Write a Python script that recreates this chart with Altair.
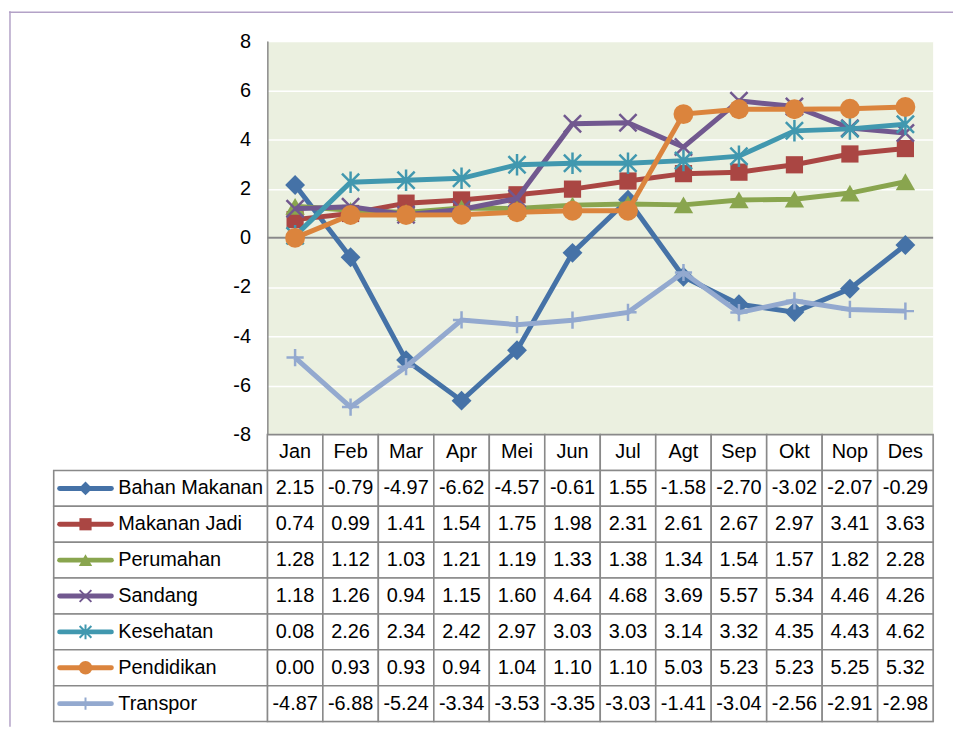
import altair as alt
import pandas as pd

# ---------------- data ----------------
months = ["Jan", "Feb", "Mar", "Apr", "Mei", "Jun", "Jul", "Agt", "Sep", "Okt", "Nop", "Des"]
series_names = ["Bahan Makanan", "Makanan Jadi", "Perumahan", "Sandang",
                "Kesehatan", "Pendidikan", "Transpor"]
bahan_makanan = [2.15, -0.79, -4.97, -6.62, -4.57, -0.61, 1.55, -1.58, -2.70, -3.02, -2.07, -0.29]
makanan_jadi = [0.74, 0.99, 1.41, 1.54, 1.75, 1.98, 2.31, 2.61, 2.67, 2.97, 3.41, 3.63]
perumahan = [1.28, 1.12, 1.03, 1.21, 1.19, 1.33, 1.38, 1.34, 1.54, 1.57, 1.82, 2.28]
sandang = [1.18, 1.26, 0.94, 1.15, 1.60, 4.64, 4.68, 3.69, 5.57, 5.34, 4.46, 4.26]
kesehatan = [0.08, 2.26, 2.34, 2.42, 2.97, 3.03, 3.03, 3.14, 3.32, 4.35, 4.43, 4.62]
pendidikan = [0.00, 0.93, 0.93, 0.94, 1.04, 1.10, 1.10, 5.03, 5.23, 5.23, 5.25, 5.32]
transpor = [-4.87, -6.88, -5.24, -3.34, -3.53, -3.35, -3.03, -1.41, -3.04, -2.56, -2.91, -2.98]
y_ticks = [-8, -6, -4, -2, 0, 2, 4, 6, 8]

series_values = [bahan_makanan, makanan_jadi, perumahan, sandang, kesehatan, pendidikan, transpor]

# ---------------- styles ----------------
X_PATH = "M-1,-1L1,1M-1,1L1,-1"
AST_PATH = "M-1,-1L1,1M-1,1L1,-1M0,-1.25L0,1.25"
PLUS_PATH = "M0,-1L0,1M-1,0L1,0"
colors = ["#4572A7", "#AA4643", "#89A54E", "#71588F", "#4198AF", "#DB843D", "#93A9CF"]
# (shape, filled, plot size, key size)
marker_styles = [
    ("diamond", True, 400, 190),
    ("square", True, 300, 150),
    ("triangle-up", True, 380, 180),
    (X_PATH, False, 300, 140),
    (AST_PATH, False, 300, 140),
    ("circle", True, 400, 190),
    (PLUS_PATH, False, 300, 150),
]
FONT = "Liberation Sans"
W, H_PLOT = 670, 396
ROW_H = 36.1
GRID = "#898989"

rows = []
for name, vals in zip(series_names, series_values):
    for m, v in zip(months, vals):
        rows.append({"series": name, "month": m, "value": v, "label": f"{v:.2f}"})
df = pd.DataFrame(rows)

# ---------------- top plot ----------------
x_enc = alt.X("month:N", sort=months,
              scale=alt.Scale(type="point", domain=months, padding=0.5), axis=None)
y_axis = alt.Axis(values=y_ticks, title=None, grid=True, gridColor="white", gridWidth=1.5,
                  domainColor=GRID, domainWidth=1.5, ticks=False, labelPadding=17,
                  labelFontSize=20, labelColor="black", labelFont=FONT,
                  labelExpr="datum.value + ''")
y_scale = alt.Scale(domain=[-8, 8], nice=False, zero=False)

one = pd.DataFrame({"v": [0]})
frame_top = alt.Chart(one).mark_rule(color="#B3A2C7", strokeWidth=1.5).encode(
    x=alt.value(-260), x2=alt.value(690), y=alt.value(-29))
frame_left = alt.Chart(one).mark_rule(color="#B3A2C7", strokeWidth=1.5).encode(
    x=alt.value(-259), y=alt.value(-30), y2=alt.value(690))
zero_rule = alt.Chart(one).mark_rule(color=GRID, strokeWidth=2).encode(
    y=alt.Y("v:Q", scale=y_scale, axis=y_axis))

layers = [zero_rule]
for name, col, (shape, filled, psize, _) in zip(series_names, colors, marker_styles):
    base = alt.Chart(df).transform_filter(alt.datum.series == name)
    line = base.mark_line(color=col, strokeWidth=5).encode(
        x=x_enc, y=alt.Y("value:Q", scale=y_scale, axis=y_axis))
    if filled:
        pt = base.mark_point(shape=shape, filled=True, size=psize, color=col, opacity=1)
    else:
        pt = base.mark_point(shape=shape, filled=False, size=psize, color=col, opacity=1,
                             strokeWidth=2.5)
    pt = pt.encode(x=x_enc, y=alt.Y("value:Q", scale=y_scale, axis=y_axis))
    layers += [line, pt]
layers += [frame_top, frame_left]

top = alt.layer(*layers).properties(
    width=W, height=H_PLOT, view=alt.ViewBackground(fill="#EBF0E0", stroke=None))

# ---------------- data table ----------------
row_keys = ["_hdr"] + series_names
y_t = alt.Y("row:N", scale=alt.Scale(domain=row_keys, paddingInner=0, paddingOuter=0), axis=None)
x_t = alt.X("month:N", scale=alt.Scale(domain=months, paddingInner=0, paddingOuter=0), axis=None)

cells = pd.DataFrame([{"row": r, "month": m} for r in row_keys for m in months])
cell_rects = alt.Chart(cells).mark_rect(fill="white", stroke=GRID, strokeWidth=1.6).encode(x=x_t, y=y_t)

hdr = pd.DataFrame({"row": ["_hdr"] * len(months), "month": months})
hdr_text = alt.Chart(hdr).mark_text(fontSize=20, font=FONT, color="black").encode(
    x=x_t, y=y_t, text="month:N")

tdf = df.rename(columns={"series": "row"})
val_text = alt.Chart(tdf).mark_text(fontSize=20, font=FONT, color="black").encode(
    x=x_t, y=y_t, text="label:N")

lab = pd.DataFrame({"row": series_names})
lab_rects = alt.Chart(lab).mark_rect(fill="white", stroke=GRID, strokeWidth=1.6).encode(
    x=alt.value(-215), x2=alt.value(0), y=y_t)
lab_text = alt.Chart(lab).mark_text(fontSize=20, font=FONT, color="black", align="left").encode(
    x=alt.value(-150), y=y_t, text="row:N")

key_layers = []
for name, col, (shape, filled, _, ksize) in zip(series_names, colors, marker_styles):
    kb = alt.Chart(lab).transform_filter(alt.datum.row == name)
    key_layers.append(kb.mark_rule(color=col, strokeWidth=5, strokeCap="round").encode(
        x=alt.value(-209), x2=alt.value(-157), y=y_t))
    if filled:
        kp = kb.mark_point(shape=shape, filled=True, size=ksize, color=col, opacity=1)
    else:
        kp = kb.mark_point(shape=shape, filled=False, size=ksize, color=col, opacity=1,
                           strokeWidth=2)
    key_layers.append(kp.encode(x=alt.value(-183), y=y_t))

table = alt.layer(cell_rects, hdr_text, val_text, lab_rects, lab_text, *key_layers).properties(
    width=W, height=ROW_H * len(row_keys))

chart = alt.vconcat(top, table, spacing=0, bounds="flush").properties(
    padding=0, background="white"
).configure_view(stroke=None).configure(font=FONT)

chart.save("out.html", embed_options={"renderer": "svg", "actions": False})
